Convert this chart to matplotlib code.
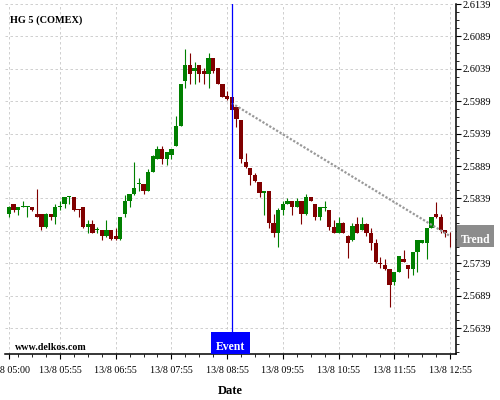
import matplotlib
matplotlib.use("Agg")
import matplotlib.pyplot as plt
import matplotlib.dates as mdates
import matplotlib.ticker as mticker
from matplotlib.patches import Rectangle
import pandas as pd

plt.rcParams['font.family'] = ['Liberation Serif', 'DejaVu Serif']

# ---------------- data ----------------
times = pd.date_range("2024-08-13 05:00", periods=96, freq="5min")

opens = [2.5815, 2.5830, 2.5821, 2.5826, 2.5826, 2.5826, 2.5815, 2.5815, 2.5795, 2.5815,
         2.5811, 2.5826, 2.5831, 2.5841, 2.5841, 2.5822, 2.5826, 2.5795, 2.5800, 2.5791,
         2.5790, 2.5781, 2.5790, 2.5781, 2.5776, 2.5815, 2.5835, 2.5846, 2.5862, 2.5861,
         2.5851, 2.5880, 2.5900, 2.5915, 2.5900, 2.5906, 2.5920, 2.5951, 2.6020, 2.6045,
         2.6036, 2.6045, 2.6036, 2.6031, 2.6055, 2.6040, 2.6015, 2.5997, 2.5995, 2.5980,
         2.5960, 2.5895, 2.5886, 2.5875, 2.5865, 2.5847, 2.5850, 2.5801, 2.5785, 2.5821,
         2.5830, 2.5835, 2.5826, 2.5835, 2.5815, 2.5841, 2.5830, 2.5810, 2.5825, 2.5821,
         2.5795, 2.5786, 2.5801, 2.5781, 2.5775, 2.5800, 2.5791, 2.5800, 2.5786, 2.5771,
         2.5738, 2.5736, 2.5730, 2.5710, 2.5725, 2.5745, 2.5736, 2.5730, 2.5756, 2.5771,
         2.5771, 2.5794, 2.5815, 2.5810, 2.5790, 2.5783]
highs = [2.5827, 2.5831, 2.5826, 2.5835, 2.5828, 2.5826, 2.5854, 2.5815, 2.5816, 2.5815,
         2.5830, 2.5835, 2.5841, 2.5843, 2.5841, 2.5822, 2.5826, 2.5806, 2.5806, 2.5795,
         2.5790, 2.5806, 2.5790, 2.5794, 2.5811, 2.5845, 2.5846, 2.5895, 2.5870, 2.5861,
         2.5885, 2.5906, 2.5920, 2.5920, 2.5910, 2.5915, 2.5966, 2.6015, 2.6069, 2.6064,
         2.6049, 2.6045, 2.6040, 2.6064, 2.6055, 2.6040, 2.6015, 2.6005, 2.5995, 2.5980,
         2.5960, 2.5909, 2.5886, 2.5879, 2.5865, 2.5850, 2.5850, 2.5815, 2.5824, 2.5835,
         2.5840, 2.5835, 2.5840, 2.5835, 2.5846, 2.5841, 2.5830, 2.5826, 2.5835, 2.5821,
         2.5805, 2.5810, 2.5802, 2.5782, 2.5801, 2.5810, 2.5810, 2.5801, 2.5794, 2.5776,
         2.5749, 2.5745, 2.5730, 2.5725, 2.5750, 2.5760, 2.5736, 2.5756, 2.5775, 2.5775,
         2.5794, 2.5810, 2.5834, 2.5815, 2.5790, 2.5788]
lows = [2.5810, 2.5818, 2.5814, 2.5826, 2.5810, 2.5820, 2.5810, 2.5790, 2.5794, 2.5806,
        2.5800, 2.5821, 2.5825, 2.5831, 2.5820, 2.5810, 2.5794, 2.5785, 2.5785, 2.5785,
        2.5775, 2.5780, 2.5775, 2.5775, 2.5775, 2.5810, 2.5826, 2.5845, 2.5850, 2.5846,
        2.5850, 2.5880, 2.5900, 2.5892, 2.5890, 2.5900, 2.5920, 2.5951, 2.6010, 2.6015,
        2.6015, 2.6019, 2.6015, 2.6010, 2.6032, 2.6015, 2.5996, 2.5991, 2.5975, 2.5949,
        2.5893, 2.5886, 2.5860, 2.5865, 2.5841, 2.5814, 2.5794, 2.5780, 2.5764, 2.5813,
        2.5830, 2.5814, 2.5826, 2.5800, 2.5814, 2.5835, 2.5805, 2.5805, 2.5820, 2.5790,
        2.5786, 2.5786, 2.5785, 2.5747, 2.5774, 2.5785, 2.5790, 2.5781, 2.5760, 2.5740,
        2.5731, 2.5729, 2.5671, 2.5705, 2.5725, 2.5741, 2.5716, 2.5721, 2.5726, 2.5770,
        2.5745, 2.5793, 2.5809, 2.5786, 2.5780, 2.5764]
closes = [2.5826, 2.5821, 2.5826, 2.5827, 2.5827, 2.5821, 2.5811, 2.5795, 2.5815, 2.5811,
          2.5826, 2.5827, 2.5841, 2.5842, 2.5821, 2.5821, 2.5795, 2.5800, 2.5786, 2.5792,
          2.5781, 2.5790, 2.5776, 2.5776, 2.5811, 2.5835, 2.5846, 2.5855, 2.5863, 2.5851,
          2.5880, 2.5905, 2.5915, 2.5900, 2.5910, 2.5915, 2.5951, 2.6015, 2.6045, 2.6031,
          2.6040, 2.6031, 2.6031, 2.6055, 2.6036, 2.6015, 2.5996, 2.5993, 2.5975, 2.5961,
          2.5900, 2.5887, 2.5875, 2.5866, 2.5847, 2.5850, 2.5801, 2.5785, 2.5821, 2.5830,
          2.5835, 2.5826, 2.5835, 2.5815, 2.5841, 2.5835, 2.5810, 2.5826, 2.5826, 2.5795,
          2.5786, 2.5801, 2.5786, 2.5771, 2.5796, 2.5786, 2.5800, 2.5786, 2.5771, 2.5741,
          2.5738, 2.5730, 2.5706, 2.5725, 2.5750, 2.5741, 2.5730, 2.5756, 2.5775, 2.5775,
          2.5794, 2.5810, 2.5810, 2.5791, 2.5785, 2.5782]

event_time = "2024-08-13 09:00"
trend_times = ["2024-08-13 09:00", "2024-08-13 12:55"]
trend_values = [2.5986, 2.5781]

ytick_values = [2.5639, 2.5689, 2.5739, 2.5789, 2.5839, 2.5889, 2.5939, 2.5989, 2.6039, 2.6089, 2.6139]
ytick_labels = ["2.5639", "2.5689", "2.5739", "", "2.5839", "2.5889", "2.5939", "2.5989", "2.6039", "2.6089", "2.6139"]
xtick_times = ["2024-08-13 05:00", "2024-08-13 05:55", "2024-08-13 06:55", "2024-08-13 07:55",
               "2024-08-13 08:55", "2024-08-13 09:55", "2024-08-13 10:55", "2024-08-13 11:55",
               "2024-08-13 12:55"]
xtick_labels = ["13/8 05:00", "13/8 05:55", "13/8 06:55", "13/8 07:55", "13/8 08:55",
                "13/8 09:55", "13/8 10:55", "13/8 11:55", "13/8 12:55"]

# ---------------- figure ----------------
fig = plt.figure(figsize=(5, 4), dpi=100)
ax = fig.add_axes([0.01, 0.115, 0.902, 0.875])

x = mdates.date2num(times)
one_min = 1.0 / 1440.0
green = "#008000"
red = "#800000"
cols = [green if c > o else red for o, c in zip(opens, closes)]

ax.vlines(x, lows, highs, colors=cols, linewidth=0.8, zorder=3)
bottoms = [min(o, c) for o, c in zip(opens, closes)]
heights = [max(abs(c - o), 0.00013) for o, c in zip(opens, closes)]
ax.bar(x, heights, width=4.6 * one_min, bottom=bottoms, color=cols, linewidth=0, zorder=4)

ax.set_xlim(x[0] - 4.2 * one_min, x[0] + 481.5 * one_min)
ax.set_ylim(2.5599, 2.6139)

# trend line
tx = mdates.date2num(pd.to_datetime(trend_times))
ax.plot(tx, trend_values, color="#999999", linewidth=1.6, linestyle=(0, (1.0, 0.8)), zorder=5)

# event line
ex = mdates.date2num(pd.Timestamp(event_time))
ax.axvline(ex, color="#0000ff", linewidth=0.9, zorder=6)

# axes styling
for s in ["left", "top"]:
    ax.spines[s].set_visible(False)
ax.spines["right"].set_linewidth(1.1)
ax.spines["bottom"].set_linewidth(1.1)
ax.yaxis.tick_right()
ax.set_yticks(ytick_values)
ax.set_yticklabels(ytick_labels)
ax.yaxis.set_minor_locator(mticker.AutoMinorLocator(4))
ax.set_xticks(mdates.date2num(pd.to_datetime(xtick_times)))
ax.set_xticklabels(xtick_labels)
ax.xaxis.set_minor_locator(mticker.FixedLocator(
    mdates.date2num(pd.date_range("2024-08-13 04:55", "2024-08-13 13:10", freq="15min"))))
ax.tick_params(axis="both", which="major", labelsize=7.2, length=3.5, width=0.8, direction="out")
ax.tick_params(axis="y", which="major", labelsize=7.5, pad=1.5)
ax.tick_params(axis="x", which="major", pad=5)
ax.tick_params(axis="both", which="minor", length=2.2, width=0.6, direction="out")
ax.grid(which="major", color="#c8c8c8", linestyle=(0, (3, 3)), linewidth=0.6, zorder=0)
ax.set_axisbelow(True)
ax.set_xlabel("Date", fontsize=9, fontweight="bold", labelpad=7)

fig.text(0.02, 0.95, "HG 5 (COMEX)", fontsize=7.4, fontweight="bold", ha="left", va="center")
fig.text(0.03, 0.13, "www.delkos.com", fontsize=7.2, fontweight="bold", ha="left", va="center")

# event box
fig.canvas.draw()
ex_px, _ = ax.transData.transform((ex, 0))
W, H = fig.bbox.width, fig.bbox.height
_, bot_px = ax.transAxes.transform((0, 0))
fig.patches.append(Rectangle(((ex_px - 21) / W, bot_px / H), 39 / W, 22.3 / H,
                             transform=fig.transFigure, facecolor="#0000ff", edgecolor="none", zorder=7))
fig.text((ex_px - 1.5) / W, (bot_px + 7.3) / H, "Event", color="white", fontsize=8.5,
         fontweight="bold", ha="center", va="center", zorder=8)

# trend box
right_px, ty_px = ax.transData.transform((ax.get_xlim()[1], trend_values[-1]))
fig.patches.append(Rectangle(((right_px + 1) / W, (ty_px - 10.5) / H), 37 / W, 21.7 / H,
                             transform=fig.transFigure, facecolor="#8c8c8c", edgecolor="none", zorder=7))
fig.text((right_px + 19.5) / W, (ty_px - 3.5) / H, "Trend", color="white", fontsize=8.3,
         fontweight="bold", ha="center", va="center", zorder=8)

fig.savefig("out.png", dpi=100)
